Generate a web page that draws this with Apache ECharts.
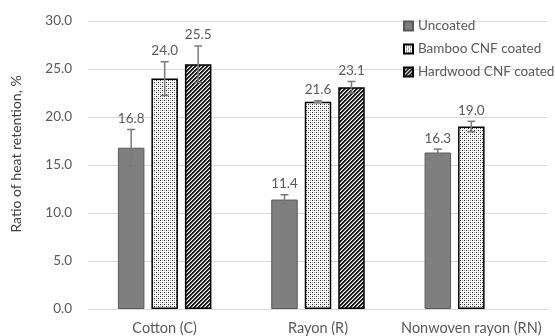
<!DOCTYPE html>
<html>
<head>
<meta charset="utf-8">
<script src="https://cdn.jsdelivr.net/npm/echarts@6/dist/echarts.min.js"></script>
<style>
  html, body { margin: 0; padding: 0; background: #fff; }
  #chart { width: 555px; height: 336px; }
</style>
</head>
<body>
<div id="chart"></div>
<script>
// Heat retention ratio (%) by fabric and coating, with standard deviations
const categories = ['Cotton (C)', 'Rayon (R)', 'Nonwoven rayon (RN)'];
const seriesNames = ['Uncoated', 'Bamboo CNF coated', 'Hardwood CNF coated'];
const uncoated = [16.8, 11.4, 16.3];
const uncoatedErr = [1.9, 0.5, 0.35];
const bamboo = [24.0, 21.6, 19.0];
const bambooErr = [1.75, 0.1, 0.55];
const hardwood = [25.5, 23.1, null];
const hardwoodErr = [1.9, 0.6, null];
const yTicks = [0, 5, 10, 15, 20, 25, 30];

const FONT = 'Lato';
const TEXT = '#595959';
const BAR_W = 26.5;
const BAR_STEP = 33.5;

// small repeating tiles for the patterned fills
function dotTile() {
  const c = document.createElement('canvas');
  c.width = 4; c.height = 4;
  const g = c.getContext('2d');
  g.fillStyle = '#ffffff'; g.fillRect(0, 0, 4, 4);
  g.fillStyle = '#222222';
  g.fillRect(0, 0, 1, 1); g.fillRect(2, 2, 1, 1);
  g.fillStyle = '#a8a8a8';
  g.fillRect(2, 0, 1, 1); g.fillRect(0, 2, 1, 1);
  return c;
}
function stripeTile() {
  const c = document.createElement('canvas');
  c.width = 4; c.height = 4;
  const g = c.getContext('2d');
  for (let x = 0; x < 4; x++) {
    for (let y = 0; y < 4; y++) {
      const k = (x + y) % 4;
      g.fillStyle = k < 2 ? '#1a1a1a' : (k === 2 ? '#8a8a8a' : '#ffffff');
      g.fillRect(x, y, 1, 1);
    }
  }
  return c;
}

const styles = [
  { color: '#7f7f7f', borderColor: '#595959', borderWidth: 1 },
  { color: { image: dotTile(), repeat: 'repeat' }, borderColor: '#000', borderWidth: 1.5 },
  { color: { image: stripeTile(), repeat: 'repeat' }, borderColor: '#000', borderWidth: 1.5 }
];
const values = [uncoated, bamboo, hardwood];
const errors = [uncoatedErr, bambooErr, hardwoodErr];

// error bars with the value label above each cap
function errorSeries(s) {
  const data = [];
  values[s].forEach((v, i) => { if (v != null) data.push([i, v, errors[s][i]]); });
  return {
    type: 'custom',
    name: seriesNames[s] + ' error',
    data: data,
    z: 10,
    clip: false,
    silent: true,
    renderItem: function (params, api) {
      const cat = api.value(0), v = api.value(1), e = api.value(2);
      const x = api.coord([cat, v])[0] + (s - 1) * BAR_STEP;
      const yTop = api.coord([cat, v + e])[1];
      const yBot = api.coord([cat, v - e])[1];
      const ls = { stroke: '#7a7a7a', lineWidth: 1.5 };
      return {
        type: 'group',
        children: [
          { type: 'line', shape: { x1: x, y1: yTop, x2: x, y2: yBot }, style: ls },
          { type: 'line', shape: { x1: x - 4, y1: yTop, x2: x + 4, y2: yTop }, style: ls },
          { type: 'line', shape: { x1: x - 4, y1: yBot, x2: x + 4, y2: yBot }, style: ls },
          { type: 'text', x: x, y: yTop - 4,
            style: { text: v.toFixed(1), fill: TEXT, font: '13.5px ' + FONT,
                     textAlign: 'center', textVerticalAlign: 'bottom' } }
        ]
      };
    }
  };
}

const chart = echarts.init(document.getElementById('chart'), null, { renderer: 'canvas' });
const series = [];
for (let s = 0; s < 3; s++) {
  series.push({
    type: 'bar',
    name: seriesNames[s],
    data: values[s],
    barWidth: BAR_W,
    barGap: ((BAR_STEP - BAR_W) / BAR_W * 100).toFixed(1) + '%',
    itemStyle: styles[s],
    z: 2
  });
}
for (let s = 0; s < 3; s++) series.push(errorSeries(s));

chart.setOption({
  animation: false,
  backgroundColor: '#ffffff',
  textStyle: { fontFamily: FONT },
  grid: { left: 88, right: 7, top: 21, bottom: 26 },
  legend: {
    data: seriesNames,
    orient: 'vertical',
    left: 398,
    top: 14,
    itemWidth: 9,
    itemHeight: 9,
    itemGap: 9,
    icon: 'rect',
    textStyle: { color: TEXT, fontSize: 13.5, fontFamily: FONT }
  },
  xAxis: {
    type: 'category',
    data: categories,
    axisLine: { lineStyle: { color: '#d9d9d9', width: 1 } },
    axisTick: { show: false },
    axisLabel: { color: TEXT, fontSize: 14.5, fontFamily: FONT, margin: 12, interval: 0 }
  },
  yAxis: {
    type: 'value',
    min: yTicks[0],
    max: yTicks[yTicks.length - 1],
    interval: yTicks[1] - yTicks[0],
    axisLine: { show: false },
    axisTick: { show: false },
    splitLine: { lineStyle: { color: '#d9d9d9', width: 1 } },
    axisLabel: { color: TEXT, fontSize: 13.5, fontFamily: FONT, margin: 16,
                 formatter: v => v.toFixed(1) }
  },
  graphic: [{
    type: 'text',
    x: 16, y: 154,
    rotation: Math.PI / 2,
    style: { text: 'Ratio of heat retention, %', fill: '#404040', font: '14px ' + FONT,
             textAlign: 'center', textVerticalAlign: 'middle' }
  }],
  series: series
});
</script>
</body>
</html>
